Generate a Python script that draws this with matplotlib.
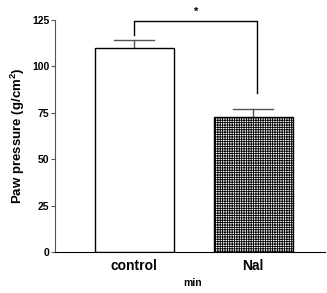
import matplotlib
matplotlib.use("Agg")
import matplotlib.pyplot as plt

categories = ["control", "Nal"]
values = [110, 72.5]
errors = [4.2, 4.7]
yticks = [0, 25, 50, 75, 100, 125]

plt.rcParams['font.family'] = ['Liberation Sans', 'DejaVu Sans']
plt.rcParams['hatch.linewidth'] = 0.6
plt.rcParams['mathtext.fontset'] = 'custom'
plt.rcParams['mathtext.rm'] = 'Liberation Sans:bold'
plt.rcParams['mathtext.bf'] = 'Liberation Sans:bold'

fig = plt.figure(figsize=(3.27, 2.93), dpi=100)
ax = fig.add_axes([55/327, 41/293, 270/327, 232/293])

x = [1, 2]
bars = ax.bar(x, values, width=0.664, color=['white', 'white'], edgecolor='black', linewidth=1.0, zorder=2)
bars[1].set_hatch('+++++++')
for xi, v, e in zip(x, values, errors):
    ax.plot([xi, xi], [v, v + e], color='#555555', lw=1.0, zorder=1)
    ax.plot([xi - 0.168, xi + 0.168], [v + e, v + e], color='#555555', lw=1.0, zorder=1)

# significance bracket
ax.plot([1, 1, 2.03, 2.03], [117, 124.5, 124.5, 85.5], color='black', lw=1.0, clip_on=False)
ax.text(1.52, 126.5, '*', ha='center', va='bottom', fontsize=8, fontweight='bold')

ax.set_xlim(0.336, 2.605)
ax.set_ylim(0, 125)
ax.set_yticks(yticks)
ax.set_yticklabels([str(t) for t in yticks], fontsize=7.5, fontweight='bold')
ax.set_xticks(x)
ax.set_xticklabels(categories, fontsize=10, fontweight='bold')
ax.tick_params(axis='x', length=0, pad=5)
ax.tick_params(axis='y', length=3, width=0.8, color='#555555', pad=1)
ax.spines['top'].set_visible(False)
ax.spines['right'].set_visible(False)
ax.spines['left'].set_color('#555555')
ax.spines['bottom'].set_color('black')
ax.set_ylabel('Paw pressure (g/cm$^{\\mathbf{2}}$)', fontsize=9.5, fontweight='bold', labelpad=4)
ax.set_xlabel('min', fontsize=7.5, fontweight='bold')
ax.xaxis.set_label_coords(0.51, -0.112)

fig.savefig('out.png', dpi=100)
